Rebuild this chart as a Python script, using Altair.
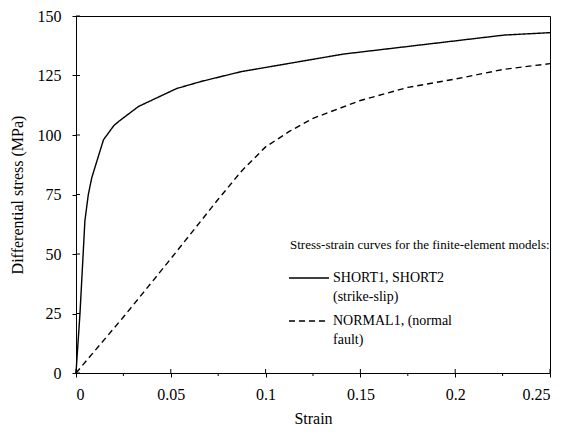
import altair as alt
import pandas as pd

# --- data ---
short_strain = [0.0, 0.0021, 0.0047, 0.0065, 0.0083, 0.011, 0.0145, 0.02, 0.023, 0.033,
                0.053, 0.066, 0.087, 0.141, 0.226, 0.25]
short_stress = [0.0, 25.0, 64.0, 75.0, 82.0, 89.0, 98.0, 104.0, 106.0, 112.0,
                119.5, 122.5, 126.6, 134.0, 142.0, 143.0]

normal_strain = [0.0, 0.025, 0.05, 0.075, 0.0875, 0.1, 0.1125, 0.125, 0.15, 0.175,
                 0.2, 0.225, 0.25]
normal_stress = [0.0, 23.5, 48.0, 73.0, 85.0, 95.0, 101.5, 107.0, 114.5, 120.0,
                 123.5, 127.5, 130.0]

series_names = ["SHORT1, SHORT2 (strike-slip)", "NORMAL1, (normal fault)"]

x_major = [0, 0.05, 0.1, 0.15, 0.2, 0.25]
x_minor = [0.025, 0.075, 0.125, 0.175, 0.225]
y_major = [0, 25, 50, 75, 100, 125, 150]

legend_heading = "Stress-strain curves for the finite-element models:"
legend_lines = ["SHORT1, SHORT2", "(strike-slip)", "NORMAL1, (normal", "fault)"]

FONT = "Liberation Serif, Times New Roman, Times, serif"
W, H = 474, 357
TOP = 8

df = pd.concat([
    pd.DataFrame({"strain": short_strain, "stress": short_stress, "series": series_names[0]}),
    pd.DataFrame({"strain": normal_strain, "stress": normal_stress, "series": series_names[1]}),
])

xscale = alt.Scale(domain=[0, 0.25], nice=False)
yscale = alt.Scale(domain=[0, 150], nice=False)

curves = alt.Chart(df).mark_line(color="black", strokeWidth=1.4).encode(
    x=alt.X("strain:Q", scale=xscale,
            axis=alt.Axis(values=x_major, format="~g", title="Strain",
                          tickSize=4, labelPadding=9, titlePadding=8)),
    y=alt.Y("stress:Q", scale=yscale,
            axis=alt.Axis(values=y_major, title="Differential stress (MPa)",
                          tickSize=4, labelPadding=11, titlePadding=12)),
    strokeDash=alt.StrokeDash("series:N",
                              scale=alt.Scale(domain=series_names, range=[[1, 0], [6, 4]]),
                              legend=None),
    order="strain:Q",
)

# inner halves of the crossing ticks
y_inner = alt.Chart(pd.DataFrame({"v": y_major})).mark_rule(color="black").encode(
    y=alt.Y("v:Q", scale=yscale), x=alt.value(0), x2=alt.value(4))
x_inner = alt.Chart(pd.DataFrame({"v": x_major})).mark_rule(color="black").encode(
    x=alt.X("v:Q", scale=xscale), y=alt.value(H), y2=alt.value(H - 4))
x_min = alt.Chart(pd.DataFrame({"v": x_minor})).mark_rule(color="black").encode(
    x=alt.X("v:Q", scale=xscale), y=alt.value(H), y2=alt.value(H + 3))

# legend drawn by hand (positions relative to the plot area)
off = 14 - (8 + TOP)
heading = alt.Chart(pd.DataFrame({"t": [legend_heading]})).mark_text(
    font=FONT, fontSize=13, align="left", baseline="middle", color="black"
).encode(text="t:N", x=alt.value(214), y=alt.value(231 + off))

leg_solid = alt.Chart(pd.DataFrame({"s": [series_names[0]]})).mark_rule(
    color="black", strokeWidth=1.4).encode(x=alt.value(213), x2=alt.value(253), y=alt.value(264 + off))
leg_dash = alt.Chart(pd.DataFrame({"s": [series_names[1]]})).mark_rule(
    color="black", strokeWidth=1.4, strokeDash=[6, 4]).encode(
    x=alt.value(213), x2=alt.value(253), y=alt.value(307 + off))

leg_text = alt.layer(*[
    alt.Chart(pd.DataFrame({"t": [txt]})).mark_text(
        font=FONT, fontSize=14, align="left", baseline="middle", color="black"
    ).encode(text="t:N", x=alt.value(257), y=alt.value(yy + off))
    for txt, yy in zip(legend_lines, [264, 283, 307, 326])
])

chart = alt.layer(curves, y_inner, x_inner, x_min, heading, leg_solid, leg_dash, leg_text).properties(
    width=W, height=H,
    padding={"left": 68, "top": TOP, "right": 10, "bottom": 60},
    autosize=alt.AutoSizeParams(type="none"),
).configure_view(
    stroke="black", strokeWidth=1
).configure_axis(
    grid=False, domainColor="black", tickColor="black", labelColor="black",
    titleColor="black", labelFont=FONT, titleFont=FONT, labelFontSize=16,
    titleFontSize=16, titleFontWeight="normal", domainWidth=1, tickWidth=1
)

chart.save("out.html", embed_options={"renderer": "svg", "actions": False})
